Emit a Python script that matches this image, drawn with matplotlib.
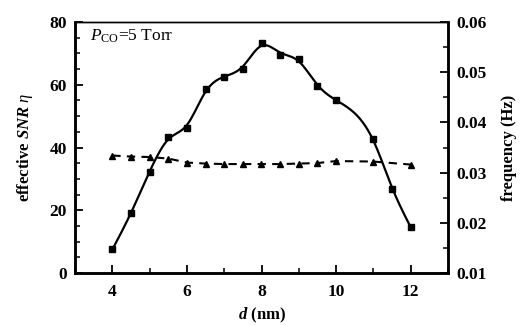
import numpy as np
import matplotlib
matplotlib.use("Agg")
import matplotlib.pyplot as plt
from matplotlib.ticker import MultipleLocator, FormatStrFormatter

plt.rcParams["font.family"] = ["Liberation Serif", "DejaVu Serif"]
plt.rcParams["mathtext.fontset"] = "custom"
plt.rcParams["mathtext.rm"] = "Liberation Serif"
plt.rcParams["mathtext.it"] = "Liberation Serif:italic"
plt.rcParams["mathtext.bf"] = "Liberation Serif:bold:italic"

# effective SNR versus gap size d
d_snr = [4.0, 4.5, 5.0, 5.5, 6.0, 6.5, 7.0, 7.5, 8.0, 8.5, 9.0, 9.5, 10.0, 11.0, 11.5, 12.0]
snr = [7.5, 19.0, 32.2, 43.3, 46.1, 58.5, 62.6, 65.1, 73.4, 69.5, 68.1, 59.5, 55.1, 42.6, 26.8, 14.7]

# frequency versus gap size d
d_freq = [4.0, 4.5, 5.0, 5.5, 6.0, 6.5, 7.0, 7.5, 8.0, 8.5, 9.0, 9.5, 10.0, 11.0, 12.0]
freq = [0.0334, 0.0332, 0.0331, 0.0328, 0.0320, 0.0318, 0.0317, 0.0317,
        0.0317, 0.0317, 0.0318, 0.0319, 0.0323, 0.0322, 0.0316]


def smoothing_spline(x, y, lam, step=0.05):
    """Penalised least-squares curve (roughness penalty on f'') on a fine grid."""
    x = np.asarray(x, float)
    y = np.asarray(y, float)
    grid = np.arange(x[0], x[-1] + step / 2, step)
    n = len(grid)
    S = np.zeros((len(x), n))
    S[np.arange(len(x)), np.rint((x - x[0]) / step).astype(int)] = 1.0
    D = np.zeros((n - 2, n))
    for i in range(n - 2):
        D[i, i:i + 3] = [1.0, -2.0, 1.0]
    D /= step ** 2
    A = S.T @ S + lam * step * (D.T @ D)
    f = np.linalg.solve(A, S.T @ y)
    return grid, f


fig = plt.figure(figsize=(5.23, 3.25), dpi=100)
ax = fig.add_axes([0.1434, 0.16, 0.7132, 0.7723])
ax2 = ax.twinx()

xs, ys = smoothing_spline(d_snr, snr, lam=0.0025)
ax.plot(xs, ys, color="black", lw=1.6, zorder=3)
ax.plot(d_snr, snr, linestyle="none", marker="s", ms=4.8, color="black", zorder=4)

ax2.plot(d_freq, freq, color="black", lw=1.5, linestyle=(0, (4, 3)),
         marker="^", ms=5, zorder=3)

ax.set_xlim(3, 13)
ax.set_ylim(0, 80)
ax2.set_ylim(0.01, 0.06)

ax.xaxis.set_major_locator(MultipleLocator(2))
ax.xaxis.set_minor_locator(MultipleLocator(1))
ax.yaxis.set_major_locator(MultipleLocator(20))
ax.yaxis.set_minor_locator(MultipleLocator(5))
ax2.yaxis.set_major_locator(MultipleLocator(0.01))
ax2.yaxis.set_minor_locator(MultipleLocator(0.005))
ax2.yaxis.set_major_formatter(FormatStrFormatter("%.2f"))

for a in (ax, ax2):
    a.tick_params(which="major", direction="in", length=6, width=1.3,
                  labelsize=12.5, pad=6)
    a.tick_params(which="minor", direction="in", length=3.5, width=1.1)
    for lab in a.get_xticklabels() + a.get_yticklabels():
        lab.set_fontweight("bold")
    for side in ("left", "right", "bottom"):
        a.spines[side].set_linewidth(1.8)
    a.spines["top"].set_linewidth(1.0)
ax.tick_params(axis="x", pad=8)

ax.set_xlabel(r"$\mathbf{d}$ (nm)", fontsize=12, fontweight="bold", labelpad=4)
ax.set_ylabel(r"effective $\mathbf{SNR}$ $\eta$", fontsize=12,
              fontweight="bold", labelpad=10)
ax2.set_ylabel("frequency (Hz)", fontsize=12, fontweight="bold", labelpad=10)

ax.text(3.4, 75.3, r"$P_{\mathrm{CO}}$=5 Torr", fontsize=12.5, va="center", ha="left")

fig.savefig("out.png", dpi=100)
